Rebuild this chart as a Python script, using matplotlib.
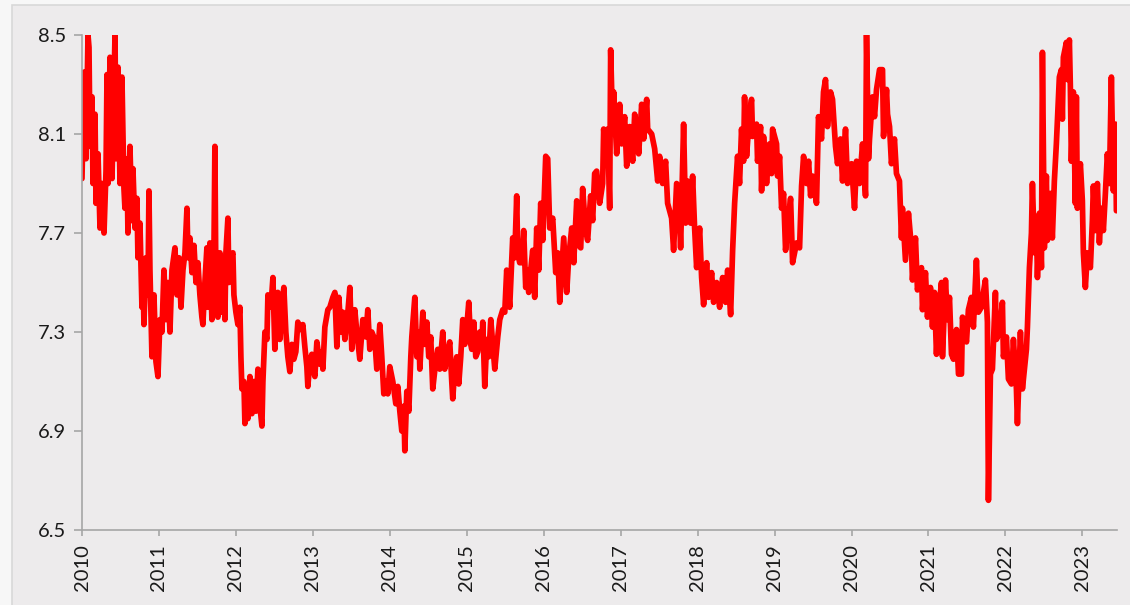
import matplotlib
matplotlib.use("Agg")
import matplotlib.pyplot as plt
from matplotlib.patches import Rectangle

# decimal-year dates and values
t_2010 = [2010.000, 2010.026, 2010.052, 2010.078, 2010.091, 2010.104, 2010.130, 2010.143, 2010.169, 2010.182,
          2010.208, 2010.234, 2010.260, 2010.286, 2010.312, 2010.325, 2010.338, 2010.364, 2010.390, 2010.416,
          2010.429, 2010.442, 2010.468, 2010.494, 2010.519, 2010.545, 2010.558, 2010.584, 2010.597, 2010.623,
          2010.649, 2010.662, 2010.688, 2010.714, 2010.727, 2010.753, 2010.779, 2010.792, 2010.805, 2010.831,
          2010.857, 2010.870, 2010.883, 2010.909, 2010.935, 2010.961, 2010.987]
v_2010 = [7.92, 8.35, 8.00, 8.50, 8.45, 8.05, 8.25, 7.90, 8.18, 7.82,
          8.02, 7.72, 7.90, 7.70, 7.95, 8.34, 7.90, 8.41, 7.92, 8.30,
          8.50, 8.00, 8.37, 7.90, 8.33, 7.88, 7.80, 8.00, 7.70, 8.05,
          7.75, 7.96, 7.72, 7.84, 7.60, 7.74, 7.40, 7.55, 7.33, 7.60,
          7.45, 7.87, 7.55, 7.20, 7.45, 7.18, 7.12]

t_2011 = [2011.013, 2011.039, 2011.065, 2011.091, 2011.117, 2011.143, 2011.169, 2011.208, 2011.234, 2011.260,
          2011.286, 2011.312, 2011.338, 2011.364, 2011.377, 2011.403, 2011.429, 2011.455, 2011.481, 2011.506,
          2011.532, 2011.558, 2011.571, 2011.597, 2011.623, 2011.636, 2011.662, 2011.688, 2011.714, 2011.727,
          2011.740, 2011.766, 2011.792, 2011.805, 2011.831, 2011.857, 2011.870, 2011.896, 2011.909, 2011.935,
          2011.961, 2011.974]
v_2011 = [7.35, 7.30, 7.55, 7.35, 7.50, 7.30, 7.55, 7.64, 7.45, 7.60,
          7.40, 7.55, 7.62, 7.80, 7.60, 7.68, 7.54, 7.65, 7.50, 7.58,
          7.45, 7.36, 7.33, 7.50, 7.64, 7.40, 7.66, 7.35, 7.60, 8.05,
          7.50, 7.36, 7.62, 7.38, 7.60, 7.35, 7.62, 7.76, 7.50, 7.60,
          7.62, 7.45]

t_2012 = [2012.000, 2012.026, 2012.052, 2012.065, 2012.078, 2012.104, 2012.117, 2012.130, 2012.156, 2012.182,
          2012.208, 2012.234, 2012.260, 2012.286, 2012.312, 2012.338, 2012.351, 2012.377, 2012.403, 2012.416,
          2012.442, 2012.468, 2012.481, 2012.506, 2012.532, 2012.545, 2012.571, 2012.597, 2012.623, 2012.649,
          2012.675, 2012.701, 2012.727, 2012.753, 2012.779, 2012.805, 2012.844, 2012.870, 2012.896, 2012.922,
          2012.935, 2012.961, 2012.987]
v_2012 = [7.38, 7.33, 7.40, 7.20, 7.07, 7.10, 6.93, 7.08, 6.95, 7.12,
          6.97, 7.10, 6.98, 7.15, 7.00, 6.92, 7.10, 7.30, 7.27, 7.45,
          7.40, 7.46, 7.52, 7.23, 7.40, 7.46, 7.27, 7.40, 7.48, 7.30,
          7.20, 7.14, 7.25, 7.19, 7.22, 7.34, 7.31, 7.33, 7.24, 7.16,
          7.08, 7.18, 7.21]

t_2013 = [2013.013, 2013.026, 2013.052, 2013.091, 2013.117, 2013.130, 2013.156, 2013.195, 2013.221, 2013.260,
          2013.286, 2013.312, 2013.338, 2013.364, 2013.390, 2013.416, 2013.455, 2013.481, 2013.506, 2013.545,
          2013.571, 2013.610, 2013.649, 2013.688, 2013.714, 2013.740, 2013.766, 2013.805, 2013.831, 2013.870,
          2013.896, 2013.922, 2013.948, 2013.974]
v_2013 = [7.14, 7.12, 7.26, 7.17, 7.22, 7.15, 7.32, 7.39, 7.40, 7.44,
          7.46, 7.24, 7.44, 7.30, 7.38, 7.27, 7.38, 7.48, 7.23, 7.39,
          7.30, 7.19, 7.35, 7.28, 7.39, 7.23, 7.30, 7.27, 7.15, 7.33,
          7.20, 7.05, 7.10, 7.05]

t_2014 = [2014.000, 2014.039, 2014.078, 2014.104, 2014.130, 2014.156, 2014.182, 2014.195, 2014.221, 2014.247,
          2014.273, 2014.286, 2014.325, 2014.351, 2014.377, 2014.390, 2014.429, 2014.455, 2014.481, 2014.506,
          2014.532, 2014.558, 2014.597, 2014.623, 2014.649, 2014.688, 2014.714, 2014.753, 2014.779, 2014.805,
          2014.818, 2014.844, 2014.870, 2014.896, 2014.922, 2014.948, 2014.974]
v_2014 = [7.16, 7.10, 7.01, 7.08, 6.98, 6.90, 7.00, 6.82, 7.06, 6.98,
          7.20, 7.28, 7.44, 7.20, 7.30, 7.15, 7.38, 7.25, 7.34, 7.20,
          7.28, 7.07, 7.18, 7.23, 7.15, 7.30, 7.15, 7.22, 7.26, 7.10,
          7.03, 7.15, 7.20, 7.09, 7.20, 7.35, 7.25]

t_2015 = [2015.000, 2015.026, 2015.052, 2015.065, 2015.091, 2015.117, 2015.143, 2015.169, 2015.195, 2015.208,
          2015.234, 2015.260, 2015.286, 2015.312, 2015.338, 2015.364, 2015.403, 2015.429, 2015.468, 2015.494,
          2015.519, 2015.545, 2015.558, 2015.597, 2015.623, 2015.649, 2015.662, 2015.688, 2015.714, 2015.740,
          2015.766, 2015.792, 2015.805, 2015.831, 2015.857, 2015.883, 2015.909, 2015.935, 2015.961, 2015.987]
v_2015 = [7.32, 7.42, 7.25, 7.23, 7.34, 7.20, 7.22, 7.30, 7.25, 7.34,
          7.08, 7.27, 7.20, 7.35, 7.25, 7.15, 7.28, 7.35, 7.39, 7.38,
          7.55, 7.45, 7.40, 7.68, 7.60, 7.85, 7.62, 7.58, 7.58, 7.71,
          7.48, 7.55, 7.46, 7.55, 7.63, 7.44, 7.72, 7.55, 7.82, 7.67]

t_2016 = [2016.026, 2016.052, 2016.078, 2016.117, 2016.156, 2016.182, 2016.208, 2016.234, 2016.260, 2016.299,
          2016.325, 2016.364, 2016.390, 2016.429, 2016.455, 2016.481, 2016.506, 2016.545, 2016.571, 2016.610,
          2016.636, 2016.662, 2016.688, 2016.727, 2016.766, 2016.779, 2016.805, 2016.831, 2016.857, 2016.870,
          2016.896, 2016.909, 2016.948, 2016.987]
v_2016 = [8.01, 8.00, 7.72, 7.76, 7.54, 7.62, 7.42, 7.55, 7.68, 7.46,
          7.60, 7.72, 7.58, 7.83, 7.65, 7.64, 7.88, 7.71, 7.67, 7.85,
          7.75, 7.94, 7.95, 7.82, 7.90, 8.12, 8.01, 8.12, 7.80, 8.44,
          8.12, 8.27, 8.02, 8.22]

t_2017 = [2017.013, 2017.052, 2017.078, 2017.117, 2017.156, 2017.182, 2017.208, 2017.234, 2017.273, 2017.299,
          2017.338, 2017.351, 2017.403, 2017.442, 2017.481, 2017.506, 2017.545, 2017.584, 2017.610, 2017.662,
          2017.688, 2017.727, 2017.753, 2017.779, 2017.818, 2017.844, 2017.870, 2017.909, 2017.935, 2017.961,
          2017.987]
v_2017 = [8.06, 8.17, 7.97, 8.13, 7.99, 8.18, 8.13, 8.02, 8.22, 8.08,
          8.24, 8.12, 8.10, 8.04, 7.91, 8.01, 7.90, 7.99, 7.82, 7.76,
          7.63, 7.90, 7.88, 7.64, 8.14, 7.74, 7.91, 7.74, 7.93, 7.72,
          7.56]

t_2018 = [2018.026, 2018.052, 2018.078, 2018.117, 2018.143, 2018.182, 2018.208, 2018.247, 2018.286, 2018.325,
          2018.364, 2018.390, 2018.429, 2018.455, 2018.481, 2018.519, 2018.545, 2018.571, 2018.597, 2018.610,
          2018.636, 2018.675, 2018.701, 2018.714, 2018.766, 2018.779, 2018.818, 2018.831, 2018.857, 2018.896,
          2018.935, 2018.961, 2018.974]
v_2018 = [7.72, 7.52, 7.41, 7.58, 7.44, 7.54, 7.42, 7.50, 7.40, 7.52,
          7.42, 7.55, 7.37, 7.63, 7.82, 8.01, 7.90, 8.12, 7.99, 8.25,
          8.01, 8.18, 8.24, 8.09, 8.14, 7.99, 8.13, 7.87, 8.09, 7.90,
          8.06, 7.94, 8.12]

t_2019 = [2019.026, 2019.039, 2019.065, 2019.091, 2019.117, 2019.143, 2019.169, 2019.208, 2019.234, 2019.286,
          2019.325, 2019.351, 2019.377, 2019.416, 2019.442, 2019.468, 2019.494, 2019.545, 2019.571, 2019.610,
          2019.636, 2019.662, 2019.688, 2019.727, 2019.753, 2019.792, 2019.818, 2019.857, 2019.883, 2019.922,
          2019.948]
v_2019 = [8.06, 7.93, 8.01, 7.80, 7.86, 7.63, 7.72, 7.84, 7.58, 7.66,
          7.64, 7.89, 8.01, 7.90, 7.99, 7.85, 7.93, 7.82, 8.17, 8.08,
          8.27, 8.32, 8.13, 8.27, 8.24, 8.05, 7.98, 8.08, 7.91, 8.12,
          7.90]

t_2020 = [2020.000, 2020.039, 2020.065, 2020.104, 2020.143, 2020.182, 2020.195, 2020.221, 2020.234, 2020.273,
          2020.299, 2020.325, 2020.364, 2020.403, 2020.416, 2020.455, 2020.468, 2020.494, 2020.519, 2020.558,
          2020.584, 2020.623, 2020.649, 2020.662, 2020.701, 2020.740, 2020.779, 2020.792, 2020.831, 2020.857,
          2020.909, 2020.922, 2020.961, 2020.987]
v_2020 = [7.98, 7.80, 7.99, 7.90, 8.06, 7.85, 8.50, 8.00, 8.08, 8.25,
          8.17, 8.28, 8.36, 8.36, 8.09, 8.28, 8.18, 8.13, 7.98, 8.08,
          7.94, 7.91, 7.68, 7.80, 7.59, 7.78, 7.64, 7.51, 7.68, 7.47,
          7.56, 7.39, 7.54, 7.36]

t_2021 = [2021.026, 2021.052, 2021.078, 2021.104, 2021.130, 2021.169, 2021.182, 2021.221, 2021.247, 2021.273,
          2021.299, 2021.325, 2021.364, 2021.390, 2021.429, 2021.442, 2021.494, 2021.519, 2021.558, 2021.584,
          2021.623, 2021.649, 2021.688, 2021.714, 2021.740, 2021.766, 2021.779, 2021.805, 2021.831, 2021.870,
          2021.883, 2021.922, 2021.961, 2021.974]
v_2021 = [7.48, 7.32, 7.46, 7.21, 7.38, 7.50, 7.20, 7.51, 7.35, 7.44,
          7.21, 7.19, 7.31, 7.13, 7.13, 7.36, 7.26, 7.39, 7.44, 7.32,
          7.59, 7.38, 7.40, 7.46, 7.51, 7.34, 6.62, 7.13, 7.15, 7.46,
          7.27, 7.30, 7.42, 7.20]

t_2022 = [2022.013, 2022.039, 2022.078, 2022.104, 2022.143, 2022.156, 2022.195, 2022.221, 2022.273, 2022.286,
          2022.312, 2022.338, 2022.351, 2022.377, 2022.403, 2022.416, 2022.442, 2022.468, 2022.481, 2022.506,
          2022.532, 2022.545, 2022.584, 2022.610, 2022.636, 2022.662, 2022.701, 2022.727, 2022.740, 2022.753,
          2022.792, 2022.805, 2022.831, 2022.844, 2022.857, 2022.883, 2022.909, 2022.922, 2022.935, 2022.974]
v_2022 = [7.28, 7.11, 7.09, 7.27, 7.07, 6.93, 7.30, 7.07, 7.23, 7.32,
          7.56, 7.70, 7.90, 7.62, 7.75, 7.52, 7.78, 7.56, 8.43, 7.64,
          7.93, 7.67, 7.86, 7.68, 7.91, 8.06, 8.33, 8.36, 8.16, 8.41,
          8.47, 8.32, 8.48, 8.29, 7.99, 8.27, 7.82, 8.25, 7.80, 7.98]

t_2023 = [2023.000, 2023.013, 2023.039, 2023.065, 2023.104, 2023.130, 2023.143, 2023.169, 2023.195, 2023.221,
          2023.247, 2023.273, 2023.299, 2023.325, 2023.351, 2023.377, 2023.403, 2023.429, 2023.442]
v_2023 = [7.83, 7.62, 7.48, 7.62, 7.56, 7.75, 7.89, 7.71, 7.90, 7.66,
          7.80, 7.71, 7.86, 8.02, 7.90, 8.33, 7.87, 8.14, 7.79]

years = list(range(2010, 2024))
y_ticks = [6.5, 6.9, 7.3, 7.7, 8.1, 8.5]

dates = (t_2010 + t_2011 + t_2012 + t_2013 + t_2014 + t_2015 + t_2016 +
         t_2017 + t_2018 + t_2019 + t_2020 + t_2021 + t_2022 + t_2023)
values = (v_2010 + v_2011 + v_2012 + v_2013 + v_2014 + v_2015 + v_2016 +
          v_2017 + v_2018 + v_2019 + v_2020 + v_2021 + v_2022 + v_2023)

panel = "#EDEBEC"
fig = plt.figure(figsize=(11.30, 6.05), dpi=100, facecolor="#F7F7F7")
bg = Rectangle((12 / 1130, -0.01), 1.0, 1 - 5 / 605 + 0.01,
               transform=fig.transFigure, facecolor=panel,
               edgecolor="#D8D8D8", linewidth=1.2, zorder=-10)
fig.patches.append(bg)

ax = fig.add_axes([82 / 1130, 1 - 530 / 605, (1117 - 82) / 1130, (530 - 35) / 605])
ax.set_zorder(5)
ax.set_facecolor(panel)
ax.plot(dates, values, color="#FF0000", linewidth=4.1,
        solid_joinstyle="round", solid_capstyle="round", clip_on=True)

ax.set_xlim(2010, 2023.45)
ax.set_ylim(6.5, 8.5)
ax.set_xticks(years)
ax.set_xticklabels([str(y) for y in years], rotation=90)
ax.set_yticks(y_ticks)
ax.set_yticklabels([f"{v:.1f}" for v in y_ticks])

for s in ["top", "right"]:
    ax.spines[s].set_visible(False)
for s in ["left", "bottom"]:
    ax.spines[s].set_color("#A6A6A6")
    ax.spines[s].set_linewidth(1.2)

ax.tick_params(axis="both", colors="#A6A6A6", labelcolor="#1A1A1A",
               labelsize=14.5, width=1.2)
ax.tick_params(axis="y", length=5.5, pad=6)
ax.tick_params(axis="x", length=4, pad=6)
for lab in ax.get_xticklabels() + ax.get_yticklabels():
    lab.set_fontfamily("Lato")

fig.savefig("out.png", dpi=100, facecolor=fig.get_facecolor())
